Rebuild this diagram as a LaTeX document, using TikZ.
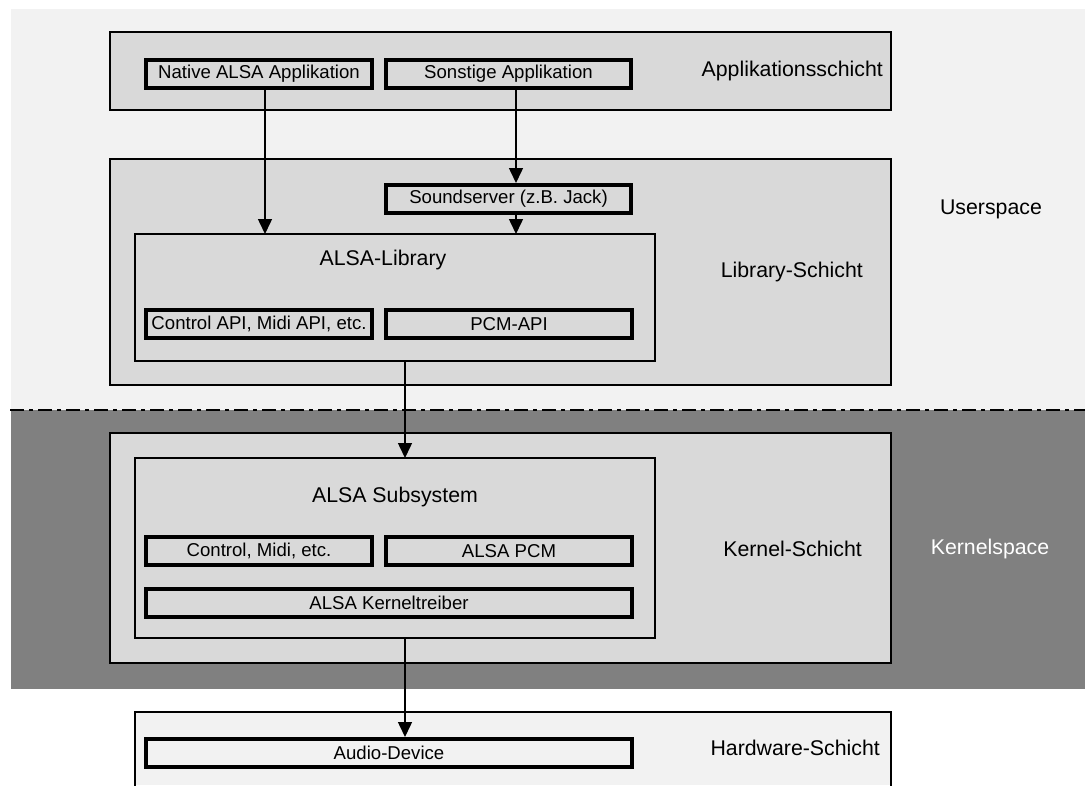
\documentclass[tikz,border=0pt]{standalone}
\usepackage{fontspec}
\setmainfont{Liberation Sans}
\usetikzlibrary{arrows.meta}
\definecolor{ubg}{HTML}{F2F2F2}
\definecolor{kbg}{HTML}{808080}
\definecolor{boxfill}{HTML}{D9D9D9}
\tikzset{
  layerbox/.style={draw=black, line width=2pt, fill=boxfill},
  groupbox/.style={draw=black, line width=2pt, fill=boxfill, inner sep=0pt},
  smallbox/.style={draw=black, line width=4pt, fill=boxfill, inner sep=0pt, anchor=north west,
     font=\fontsize{18.6}{22}\selectfont},
  lbl/.style={font=\fontsize{21.3}{25}\selectfont, inner sep=0pt},
  arr/.style={line width=1.5pt, -{Triangle[width=14pt,length=15pt]}},
}
\begin{document}
\begin{tikzpicture}[x=1pt,y=-1pt]
\useasboundingbox (0,0) rectangle (1085,785);
% backgrounds
\fill[ubg] (11,9) rectangle (1085,410);
\fill[kbg] (11,410) rectangle (1085,689);
\draw[line width=2pt, black, dash pattern=on 14pt off 5pt on 4pt off 5pt] (10,410) -- (1085,410);
% layer boxes
\draw[layerbox] (110,32) rectangle (891,110);
\draw[layerbox] (110,159) rectangle (891,385);
\draw[layerbox] (110,433) rectangle (891,663);
\fill[ubg] (135,712) rectangle (891,785);
\draw[line width=2pt] (135,786) -- (135,712) -- (891,712) -- (891,786);
% group boxes
\draw[groupbox] (135,234) rectangle (655,361);
\draw[groupbox] (135,458) rectangle (655,638);
\node[lbl] (alsalib) at (383,260) {ALSA-Library};
\node[lbl] (subsys) at (395,497) {ALSA Subsystem};
\coordinate (libtop) at (395,234);
\coordinate (libbot) at (395,361);
\coordinate (subtop) at (395,458);
\coordinate (subbot) at (395,638);
% small boxes
\node[smallbox, minimum width=226pt, minimum height=28pt] (native) at (144,58) {Native ALSA Applikation};
\node[smallbox, minimum width=245pt, minimum height=28pt] (sonst) at (384,58) {Sonstige Applikation};
\node[smallbox, minimum width=245pt, minimum height=28pt] (sound) at (384,183) {Soundserver (z.B. Jack)};
\node[smallbox, minimum width=226pt, minimum height=28pt] (ctlapi) at (144,308) {Control API, Midi API, etc.};
\node[smallbox, minimum width=246pt, minimum height=28pt] (pcmapi) at (384,308) {PCM-API};
\node[smallbox, minimum width=226pt, minimum height=28pt] (ctlmidi) at (144,535) {Control, Midi, etc.};
\node[smallbox, minimum width=246pt, minimum height=28pt] (alsapcm) at (384,535) {ALSA PCM};
\node[smallbox, minimum width=486pt, minimum height=28pt] (ktreiber) at (144,587) {ALSA Kerneltreiber};
\node[smallbox, minimum width=486pt, minimum height=28pt, fill=ubg] (audio) at (144,737) {Audio-Device};
% labels
\node[lbl, anchor=east] (lapp) at (883,71) {Applikationsschicht};
\node[lbl, anchor=east] (llib) at (863,272) {Library-Schicht};
\node[lbl, anchor=east] (lker) at (862,549) {Kernel-Schicht};
\node[lbl, anchor=east] (lhw) at (880,748) {Hardware-Schicht};
\node[lbl] (luser) at (991,209) {Userspace};
\node[lbl, text=white] (lkern) at (990,549) {Kernelspace};
% arrows
\coordinate (xa) at (265,0);
\coordinate (xb) at (516,0);
\coordinate (xc) at (405,0);
\draw[arr] (native.south -| xa) -- (libtop -| xa);
\draw[arr] (sonst.south -| xb) -- (sound.north -| xb);
\draw[arr] (sound.south -| xb) -- (libtop -| xb);
\draw[arr] (libbot -| xc) -- (subtop -| xc);
\draw[arr] (subbot -| xc) -- (audio.north -| xc);
\end{tikzpicture}
\end{document}
